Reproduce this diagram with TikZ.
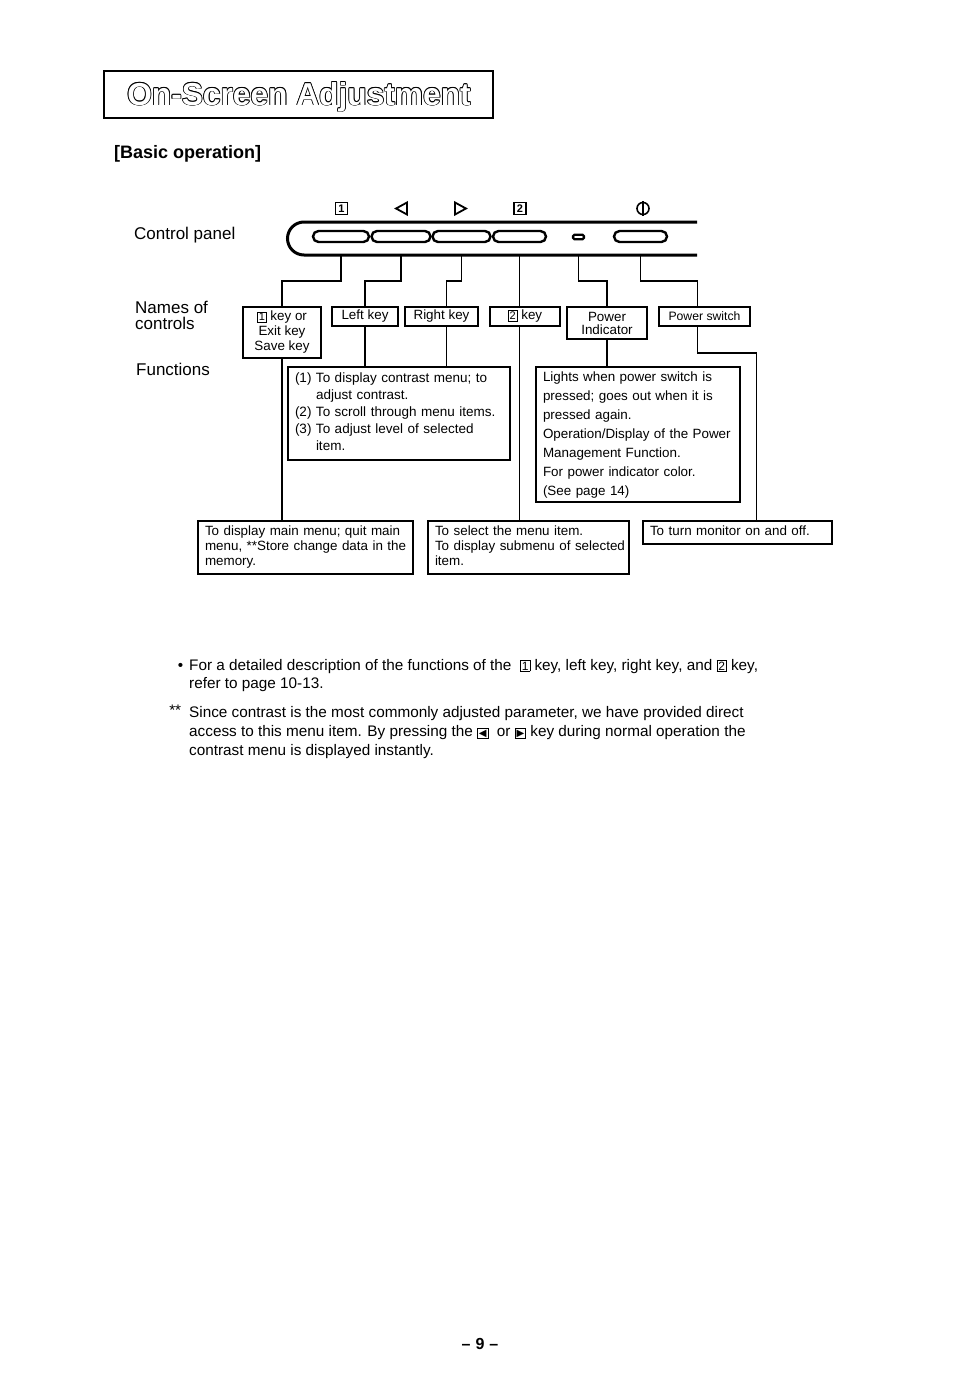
\documentclass[tikz,border=0pt]{standalone}
\usepackage{fontspec}
\setmainfont{Liberation Sans}
\newfontfamily\dejavu{DejaVu Sans}
\setlength\fboxsep{1pt}
\setlength\fboxrule{0.8pt}
\newcommand\kb[2][11]{\fbox{\fontsize{#1}{#1}\selectfont #2}}
\newcommand\kbt[1]{\fbox{\dejavu\fontsize{10}{10}\selectfont #1}}
\newcommand\outl[1]{\leavevmode
 \rlap{\kern.8pt#1}\rlap{\kern-.8pt#1}\rlap{\raisebox{.8pt}{#1}}\rlap{\raisebox{-.8pt}{#1}}%
 \rlap{\kern.6pt\raisebox{.6pt}{#1}}\rlap{\kern-.6pt\raisebox{.6pt}{#1}}%
 \rlap{\kern.6pt\raisebox{-.6pt}{#1}}\rlap{\kern-.6pt\raisebox{-.6pt}{#1}}%
 \textcolor{white}{#1}}
\newcommand\lines[1]{\begin{tabular}{@{}l@{}}#1\end{tabular}}
\begin{document}
\begin{tikzpicture}[x=1pt,y=-1pt,
  ln/.style={line width=1.1pt},
  bx/.style={draw, line width=1.1pt, inner sep=0pt},
  nm/.style={bx, align=center, font=\fontsize{13.4}{15}\selectfont},
  fn/.style={bx, align=left, inner xsep=7pt, inner ysep=0pt},
  btn/.style={draw, line width=2.4pt, rounded corners=5.5pt, minimum height=11pt, inner sep=0pt},
  lab/.style={anchor=base west, font=\fontsize{17}{16}\selectfont, inner sep=0pt},
  note/.style={anchor=base west, font=\fontsize{15.3}{18}\selectfont, inner sep=0pt},
  sym/.style={line width=1.8pt, line join=miter},
]
\useasboundingbox (0,0) rectangle (954,1373);

% title
\node[draw, line width=1.4pt, minimum width=389pt, minimum height=47pt, inner sep=0pt] (tbox) at (298.5,94.5) {};
\node[anchor=base, inner sep=0pt, font=\fontsize{31.7}{34}\selectfont\bfseries] (title) at (299,105) {\outl{On-Screen Adjustment}};
\node[anchor=base west, inner sep=0pt, font=\fontsize{18}{20}\selectfont\bfseries] (basic) at (114,158) {[Basic operation]};

% left labels
\node[lab] (cp) at (134,239) {Control panel};
\node[lab] (nm1) at (135,313) {Names of};
\node[lab] (nm2) at (135,329) {controls};
\node[lab] (fu) at (136,375) {Functions};

% panel
\draw[line width=3pt] (697,222) -- (304,222) arc[start angle=270, end angle=90, radius=16.5] -- (697,255);
\node[btn, minimum width=56pt] (b1) at (341,236.5) {};
\node[btn, minimum width=59pt] (b2) at (401,236.5) {};
\node[btn, minimum width=58pt] (b3) at (461.5,236.5) {};
\node[btn, minimum width=53pt] (b4) at (519.5,236.5) {};
\node[draw, line width=2.2pt, rounded corners=1.5pt, minimum width=11pt, minimum height=4.5pt, inner sep=0pt] (ind) at (578.5,237) {};
\node[btn, minimum width=53pt] (pw) at (640.5,236.5) {};

% symbols above panel
\node[draw, line width=1.3pt, minimum size=12pt, inner sep=0pt, font=\fontsize{11}{11}\selectfont\bfseries] (s1) at (341.5,208.5) {1};
\draw[sym] (407,202.5) -- (396,208.5) -- (407,214.5) -- cycle;
\draw[sym] (455,202.5) -- (466,208.5) -- (455,214.5) -- cycle;
\node[draw, line width=1.3pt, minimum size=12pt, inner sep=0pt, font=\fontsize{11}{11}\selectfont\bfseries] (s2) at (520,208.5) {2};
\draw[line width=1.6pt] (643,208.5) circle (6);
\draw[line width=1.6pt] (643,201) -- (643,216);

% helper coordinates
\coordinate (pb) at (0,256);
\coordinate (hy) at (0,281);
\coordinate (sy) at (0,353);

% names of controls
\node[nm, minimum width=78pt, minimum height=51pt] (n1) at (282,332.5) {\kb{1} key or\\Exit key\\Save key};
\node[nm, minimum width=66pt, minimum height=19pt] (n2) at (365,316.5) {Left key};
\node[nm, minimum width=73pt, minimum height=19pt] (n3) at (441.5,316.5) {Right key};
\node[nm, minimum width=70pt, minimum height=19pt] (n4) at (525,316.5) {\kb{2} key};
\node[nm, minimum width=80pt, minimum height=32pt, font=\fontsize{13.4}{13}\selectfont] (n5) at (607,323) {Power\\Indicator};
\node[nm, minimum width=91pt, minimum height=19pt, font=\fontsize{12.2}{14}\selectfont] (n6) at (704.5,316.5) {Power switch};

% functions
\node[fn, font=\fontsize{13.5}{17}\selectfont, text width=208pt, minimum height=93pt] (f1) at (399,413.5)
 {\lines{(1) To display contrast menu; to\\\hphantom{(1)\ }adjust contrast.\\(2) To scroll through menu items.\\(3) To adjust level of selected\\\hphantom{(3)\ }item.}};
\node[fn, font=\fontsize{13.4}{19}\selectfont, text width=190pt, minimum height=135pt] (f2) at (638,434.5)
 {\lines{Lights when power switch is\\pressed; goes out when it is\\pressed again.\\Operation/Display of the Power\\Management Function.\\For power indicator color.\\(See page 14)}};
\node[fn, font=\fontsize{13.4}{15}\selectfont, text width=201pt, minimum height=53pt] (f4) at (305.5,547.5)
 {\lines{To display main menu; quit main\\menu, **Store change data in the\\memory.}};
\node[fn, font=\fontsize{13.4}{15}\selectfont, text width=187pt, minimum height=53pt] (f5) at (528.5,547.5)
 {\lines{To select the menu item.\\To display submenu of selected\\item.}};
\node[fn, font=\fontsize{13.4}{15}\selectfont, text width=175pt, minimum height=23pt] (f6) at (737.5,532.5)
 {\lines{To turn monitor on and off.}};

% connectors
\draw[ln] (b1 |- pb) -- (b1 |- hy) -| (n1.north);
\draw[ln] (b2 |- pb) -- (b2 |- hy) -| (n2.north);
\draw[ln] (b3 |- pb) -- (b3 |- hy) -| ([xshift=5pt]n3.north);
\draw[ln] (b4 |- pb) -- (b4 |- n4.north);
\draw[ln] (ind |- pb) -- (ind |- hy) -| (n5.north);
\draw[ln] (pw |- pb) -- (pw |- hy) -| ([xshift=-7pt]n6.north);
\draw[ln] (n1.south) -- (n1.south |- f4.north);
\draw[ln] (n2.south) -- (n2.south |- f1.north);
\draw[ln] ([xshift=5pt]n3.south) -- ([xshift=5pt]n3.south |- f1.north);
\draw[ln] (b4 |- n4.south) -- (b4 |- f5.north);
\draw[ln] (n5.south) -- (n5.south |- f2.north);
\draw[ln] ([xshift=-7pt]n6.south) |- ([xshift=19pt]f6.north |- sy) -- ([xshift=19pt]f6.north);

% notes
\node[note] (t1) at (189,670) {\llap{\textbullet\hspace{6pt}}For a detailed description of the functions of the \ \kb[12]{1} key, left key, right key, and \kb[12]{2} key,};
\node[note] (t2) at (189,688) {refer to page 10-13.};
\node[note] (t3) at (189,717) {\llap{\raisebox{2pt}{**}\hspace{8pt}}Since contrast is the most commonly adjusted parameter, we have provided direct};
\node[note] (t4) at (189,736) {access to this menu item. By pressing the \kbt{◀}\ \ or \kbt{▶} key during normal operation the};
\node[note] (t5) at (189,755) {contrast menu is displayed instantly.};

% page number
\node[anchor=base, inner sep=0pt, font=\fontsize{16}{18}\selectfont\bfseries] (pg) at (480,1349) {--\hspace{5pt}9\hspace{5pt}--};
\end{tikzpicture}
\end{document}
